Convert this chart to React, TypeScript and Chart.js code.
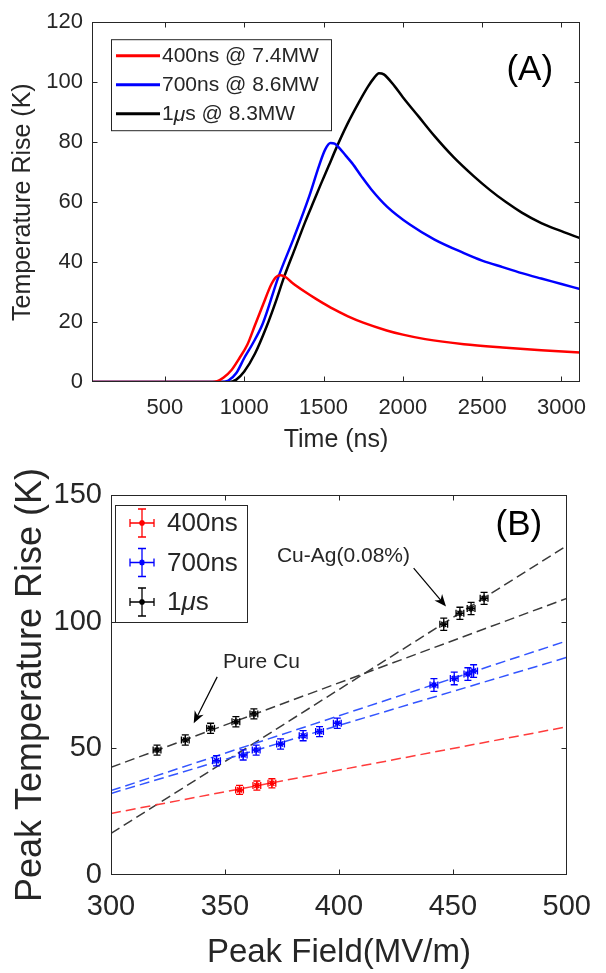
import React, { useEffect, useRef } from "react";
import { Chart, registerables } from "chart.js";

Chart.register(...registerables);

const FONT = "'Liberation Sans', Arial, Helvetica, sans-serif";
const INK = "#262626";

// ---------------- Panel A data ----------------
const timeTicks = [500, 1000, 1500, 2000, 2500, 3000];
const riseTicks = [0, 20, 40, 60, 80, 100, 120];

const time400 = [40, 800, 830, 870, 920, 970, 1020, 1068, 1120, 1170, 1200, 1230, 1260, 1300, 1385, 1450, 1532, 1600, 1654, 1750, 1898, 2000, 2141, 2385, 2629, 2873, 3117];
const rise400 = [0, 0, 0.3, 1.5, 4, 8, 12.5, 19, 26, 32.5, 35, 35.6, 35, 33.2, 30, 27.8, 25.2, 23.3, 21.9, 19.8, 17.2, 15.8, 14.3, 12.6, 11.5, 10.6, 9.8];

const time700 = [40, 850, 900, 950, 1000, 1050, 1117, 1215, 1312, 1410, 1471, 1510, 1544, 1570, 1600, 1640, 1680, 1740, 1800, 1900, 2044, 2200, 2385, 2500, 2629, 2750, 2873, 3000, 3117];
const rise700 = [0, 0, 0.5, 3, 8, 12.5, 19.5, 35, 48, 62, 72, 77.5, 79.7, 79.5, 78, 75.5, 73, 68.5, 64.3, 58.5, 52.5, 47.5, 43, 40.5, 38.3, 36.3, 34.5, 32.7, 31];

const time1us = [40, 900, 950, 1000, 1068, 1141, 1200, 1251, 1320, 1385, 1440, 1483, 1532, 1580, 1650, 1720, 1780, 1820, 1849, 1880, 1950, 2000, 2100, 2200, 2320, 2450, 2550, 2650, 2750, 2873, 3000, 3117];
const rise1us = [0, 0, 0.8, 3.5, 9.5, 18.5, 27, 35, 44.5, 53.5, 60.5, 66, 72, 78, 86, 93, 98.5, 101.5, 103, 102.6, 98.5, 95, 88.5, 82, 75, 68.5, 64, 60, 56.5, 53, 50.3, 48];

const labelsA = ["400ns @ 7.4MW", "700ns @ 8.6MW", "1μs @ 8.3MW"];
const colorsA = ["#ff0000", "#0000ff", "#000000"];

// ---------------- Panel B data ----------------
const fieldTicks = [300, 350, 400, 450, 500];
const peakTicks = [0, 50, 100, 150];

const field400 = [356.4, 364.0, 370.6];
const peak400 = [33.6, 35.3, 36.2];
const peak400Err = [1.8, 1.8, 1.8];

const field700 = [346.3, 358.0, 363.7, 374.4, 384.3, 391.5, 399.3, 441.7, 450.6, 456.6, 459.1];
const peak700 = [45.1, 47.4, 49.3, 51.7, 55.0, 56.6, 59.9, 75.0, 77.6, 79.3, 80.5];
const peak700Err = [2, 2, 2, 2, 2, 2, 2, 2.5, 2.5, 2.5, 2.5];

const field1us = [320.2, 332.6, 343.7, 354.8, 362.7, 446.0, 453.1, 458.0, 463.7];
const peak1us = [49.3, 53.3, 57.9, 60.5, 63.6, 99.0, 103.3, 105.2, 109.2];
const peak1usErr = [2, 2, 2, 2, 2, 2.4, 2.4, 2.4, 2.4];

const fieldErr = 1.7;

const fitField = [300, 500];
const fit400 = [24.3, 58.5];
const fit700a = [33.3, 92.4];
const fit700b = [32.2, 85.9];
const fitCu = [42.5, 109.2];
const fitCuAg = [16.4, 130.0];

const labelsB = ["400ns", "700ns", "1μs"];
const colorsB = ["#ff0000", "#0000ff", "#000000"];

// ---------------- helpers ----------------
function drawRich(ctx: CanvasRenderingContext2D, text: string, x: number, y: number, size: number) {
  const parts = text.split("μ");
  let cx = x;
  parts.forEach((p, i) => {
    if (i > 0) {
      ctx.font = `italic ${size}px ${FONT}`;
      ctx.fillText("μ", cx, y);
      cx += ctx.measureText("μ").width;
    }
    ctx.font = `${size}px ${FONT}`;
    ctx.fillText(p, cx, y);
    cx += ctx.measureText(p).width;
  });
}

function framePlugin(xTicks: number[], yTicks: number[], tickLen: number) {
  return {
    id: "frame",
    afterDraw(chart: any) {
      const { ctx, chartArea: a } = chart;
      const xs = chart.scales.x;
      const ys = chart.scales.y;
      const L = Math.round(a.left) + 0.5;
      const R = Math.round(a.right) - 0.5;
      const T = Math.round(a.top) + 0.5;
      const B = Math.round(a.bottom) - 0.5;
      ctx.save();
      ctx.strokeStyle = INK;
      ctx.lineWidth = 1;
      ctx.strokeRect(L, T, R - L, B - T);
      ctx.beginPath();
      for (const v of xTicks) {
        const p = Math.round(xs.getPixelForValue(v)) + 0.5;
        if (p <= L + 1 || p >= R - 1) continue;
        ctx.moveTo(p, B);
        ctx.lineTo(p, B - tickLen);
        ctx.moveTo(p, T);
        ctx.lineTo(p, T + tickLen);
      }
      for (const v of yTicks) {
        const p = Math.round(ys.getPixelForValue(v)) + 0.5;
        if (p <= T + 1 || p >= B - 1) continue;
        ctx.moveTo(L, p);
        ctx.lineTo(L + tickLen, p);
        ctx.moveTo(R, p);
        ctx.lineTo(R - tickLen, p);
      }
      ctx.stroke();
      ctx.restore();
    },
  };
}

function dummyScale(position: string, size: number) {
  const horiz = position === "top" || position === "bottom";
  return {
    type: "linear",
    position,
    display: true,
    grid: { display: false, drawTicks: false },
    border: { display: false },
    ticks: { display: false },
    afterFit: (s: any) => {
      if (horiz) s.height = size;
      else s.width = size;
    },
  };
}

function drawArrow(ctx: CanvasRenderingContext2D, x0: number, y0: number, x1: number, y1: number) {
  const ang = Math.atan2(y1 - y0, x1 - x0);
  const len = 12;
  const hw = 5;
  ctx.beginPath();
  ctx.moveTo(x0, y0);
  ctx.lineTo(x1 - Math.cos(ang) * 6, y1 - Math.sin(ang) * 6);
  ctx.stroke();
  const bx = x1 - Math.cos(ang) * len;
  const by = y1 - Math.sin(ang) * len;
  const nx = x1 - Math.cos(ang) * (len * 0.7);
  const ny = y1 - Math.sin(ang) * (len * 0.7);
  ctx.beginPath();
  ctx.moveTo(x1, y1);
  ctx.lineTo(bx + Math.sin(ang) * hw, by - Math.cos(ang) * hw);
  ctx.lineTo(nx, ny);
  ctx.lineTo(bx - Math.sin(ang) * hw, by + Math.cos(ang) * hw);
  ctx.closePath();
  ctx.fill();
}

function drawErrBar(ctx: CanvasRenderingContext2D, x: number, y: number, dxL: number, dxR: number, dyT: number, dyB: number, cap: number) {
  ctx.beginPath();
  ctx.moveTo(x, y - dyT);
  ctx.lineTo(x, y + dyB);
  ctx.moveTo(x - cap, y - dyT);
  ctx.lineTo(x + cap, y - dyT);
  ctx.moveTo(x - cap, y + dyB);
  ctx.lineTo(x + cap, y + dyB);
  ctx.moveTo(x - dxL, y);
  ctx.lineTo(x + dxR, y);
  ctx.moveTo(x - dxL, y - cap);
  ctx.lineTo(x - dxL, y + cap);
  ctx.moveTo(x + dxR, y - cap);
  ctx.lineTo(x + dxR, y + cap);
  ctx.stroke();
}

function drawStar(ctx: CanvasRenderingContext2D, x: number, y: number, r: number) {
  ctx.beginPath();
  ctx.moveTo(x - r, y);
  ctx.lineTo(x + r, y);
  ctx.moveTo(x, y - r);
  ctx.lineTo(x, y + r);
  const d = r * 0.7;
  ctx.moveTo(x - d, y - d);
  ctx.lineTo(x + d, y + d);
  ctx.moveTo(x - d, y + d);
  ctx.lineTo(x + d, y - d);
  ctx.stroke();
}

const plainTick = (v: any) => String(v);

// ---------------- Panel A ----------------
function PanelA() {
  const ref = useRef<HTMLCanvasElement>(null);
  useEffect(() => {
    const series = [
      [time400, rise400],
      [time700, rise700],
      [time1us, rise1us],
    ];
    const legendPlugin = {
      id: "legendA",
      afterDraw(chart: any) {
        const { ctx, chartArea: a, scales } = chart;
        ctx.save();
        ctx.fillStyle = "#000";
        ctx.font = `35px ${FONT}`;
        ctx.textAlign = "center";
        ctx.textBaseline = "middle";
        ctx.fillText("(A)", scales.x.getPixelForValue(2800), scales.y.getPixelForValue(104));
        const bx = a.left + 19;
        const by = a.top + 17;
        const bw = 220;
        const bh = 91;
        ctx.fillStyle = "#fff";
        ctx.fillRect(bx, by, bw, bh);
        ctx.strokeStyle = INK;
        ctx.lineWidth = 1;
        ctx.strokeRect(bx + 0.5, by + 0.5, bw, bh);
        ctx.textAlign = "left";
        labelsA.forEach((lab, i) => {
          const y = by + 16.5 + i * 29;
          ctx.strokeStyle = colorsA[i];
          ctx.lineWidth = 3;
          ctx.beginPath();
          ctx.moveTo(bx + 5, y);
          ctx.lineTo(bx + 49, y);
          ctx.stroke();
          ctx.fillStyle = INK;
          drawRich(ctx, lab, bx + 51, y + 1, 21);
        });
        ctx.restore();
      },
    };
    const chart = new Chart(ref.current as HTMLCanvasElement, {
      type: "line",
      data: {
        datasets: series.map(([xs, ys], i) => ({
          label: labelsA[i],
          data: xs.map((x, j) => ({ x, y: ys[j] })),
          borderColor: colorsA[i],
          backgroundColor: colorsA[i],
          borderWidth: 2.5,
          pointRadius: 0,
          cubicInterpolationMode: "monotone",
          xAxisID: "x",
          yAxisID: "y",
        })),
      },
      options: {
        animation: false,
        responsive: false,
        maintainAspectRatio: false,
        layout: { padding: 0 },
        plugins: { legend: { display: false }, tooltip: { enabled: false } },
        scales: {
          x: {
            type: "linear",
            position: "bottom",
            min: 40,
            max: 3117,
            afterBuildTicks: (s: any) => {
              s.ticks = timeTicks.map((v) => ({ value: v }));
            },
            afterFit: (s: any) => {
              s.height = 83;
            },
            grid: { display: false, drawTicks: false },
            border: { display: false },
            ticks: { color: INK, font: { family: FONT, size: 22 }, padding: 13, maxRotation: 0, autoSkip: false, callback: plainTick },
            title: { display: true, text: "Time (ns)", color: INK, font: { family: FONT, size: 25 }, padding: { top: 0, bottom: 10 } },
          },
          y: {
            type: "linear",
            position: "left",
            min: 0,
            max: 120,
            afterBuildTicks: (s: any) => {
              s.ticks = riseTicks.map((v) => ({ value: v }));
            },
            afterFit: (s: any) => {
              s.width = 92;
            },
            grid: { display: false, drawTicks: false },
            border: { display: false },
            ticks: { color: INK, font: { family: FONT, size: 22 }, padding: 9, autoSkip: false, callback: plainTick },
            title: { display: true, text: "Temperature Rise (K)", color: INK, font: { family: FONT, size: 25 }, padding: { top: 8, bottom: 0 } },
          },
          top: dummyScale("top", 15),
          right: dummyScale("right", 26),
        } as any,
      },
      plugins: [framePlugin(timeTicks, riseTicks, 5), legendPlugin],
    } as any);
    return () => chart.destroy();
  }, []);
  return (
    <canvas
      ref={ref}
      width={606}
      height={465}
      style={{ position: "absolute", left: 0, top: 0, width: 606, height: 465 }}
    />
  );
}

// ---------------- Panel B ----------------
function PanelB() {
  const ref = useRef<HTMLCanvasElement>(null);
  useEffect(() => {
    const groups = [
      [field400, peak400, peak400Err],
      [field700, peak700, peak700Err],
      [field1us, peak1us, peak1usErr],
    ];
    const fits = [
      [fit400, "#ff3b3b"],
      [fit700a, "#3355ff"],
      [fit700b, "#3355ff"],
      [fitCu, "#3a3a3a"],
      [fitCuAg, "#3a3a3a"],
    ] as [number[], string][];

    const extrasPlugin = {
      id: "extrasB",
      afterDatasetsDraw(chart: any) {
        const { ctx, scales } = chart;
        const xs = scales.x;
        const ys = scales.y;
        ctx.save();
        ctx.lineWidth = 1.3;
        groups.forEach(([fx, py, pe], gi) => {
          ctx.strokeStyle = colorsB[gi];
          fx.forEach((f, j) => {
            const x = xs.getPixelForValue(f);
            const y = ys.getPixelForValue(py[j]);
            const dxL = x - xs.getPixelForValue(f - fieldErr);
            const dyT = y - ys.getPixelForValue(py[j] + pe[j]);
            drawErrBar(ctx, x, y, dxL, dxL, dyT, dyT, 3.5);
          });
        });
        ctx.restore();
      },
      afterDraw(chart: any) {
        const { ctx, chartArea: a, scales } = chart;
        const xs = scales.x;
        const ys = scales.y;
        ctx.save();
        ctx.fillStyle = "#000";
        ctx.textAlign = "center";
        ctx.textBaseline = "middle";
        ctx.font = `35px ${FONT}`;
        ctx.fillText("(B)", xs.getPixelForValue(479), ys.getPixelForValue(138));
        ctx.font = `21px ${FONT}`;
        ctx.fillStyle = INK;
        ctx.fillText("Pure Cu", xs.getPixelForValue(366), ys.getPixelForValue(84));
        ctx.fillText("Cu-Ag(0.08%)", xs.getPixelForValue(402), ys.getPixelForValue(126));
        ctx.strokeStyle = "#000";
        ctx.fillStyle = "#000";
        ctx.lineWidth = 1.2;
        drawArrow(ctx, xs.getPixelForValue(346.6), ys.getPixelForValue(78.2), xs.getPixelForValue(336.3), ys.getPixelForValue(59.9));
        drawArrow(ctx, xs.getPixelForValue(432.8), ys.getPixelForValue(121.1), xs.getPixelForValue(447), ys.getPixelForValue(106));
        const bx = a.left + 4;
        const by = a.top + 10;
        const bw = 132;
        const bh = 117;
        ctx.fillStyle = "#fff";
        ctx.fillRect(bx, by, bw, bh);
        ctx.strokeStyle = INK;
        ctx.lineWidth = 1;
        ctx.strokeRect(bx + 0.5, by + 0.5, bw, bh);
        ctx.textAlign = "left";
        labelsB.forEach((lab, i) => {
          const y = by + 18 + i * 39.5;
          const x = bx + 27;
          ctx.strokeStyle = colorsB[i];
          ctx.lineWidth = 1.3;
          drawErrBar(ctx, x, y, 12, 12, 14, 14, 4);
          ctx.lineWidth = 1.5;
          drawStar(ctx, x, y, 3);
          ctx.fillStyle = INK;
          drawRich(ctx, lab, bx + 52, y + 1, 26);
        });
        ctx.restore();
      },
    };

    const datasets: any[] = [
      ...fits.map(([vals, color]) => ({
        type: "line",
        data: fitField.map((f, j) => ({ x: f, y: vals[j] })),
        borderColor: color,
        borderWidth: 1.5,
        borderDash: [10, 5],
        pointRadius: 0,
        showLine: true,
        fill: false,
        xAxisID: "x",
        yAxisID: "y",
      })),
      ...groups.map(([fx, py], gi) => ({
        type: "scatter",
        label: labelsB[gi],
        data: fx.map((f, j) => ({ x: f, y: py[j] })),
        borderColor: colorsB[gi],
        backgroundColor: colorsB[gi],
        pointStyle: "star",
        pointRadius: 3.5,
        borderWidth: 1.5,
        showLine: false,
        xAxisID: "x",
        yAxisID: "y",
      })),
    ];

    const chart = new Chart(ref.current as HTMLCanvasElement, {
      type: "scatter",
      data: { datasets },
      options: {
        animation: false,
        responsive: false,
        maintainAspectRatio: false,
        layout: { padding: 0 },
        plugins: { legend: { display: false }, tooltip: { enabled: false } },
        scales: {
          x: {
            type: "linear",
            position: "bottom",
            min: 300,
            max: 500,
            afterBuildTicks: (s: any) => {
              s.ticks = fieldTicks.map((v) => ({ value: v }));
            },
            afterFit: (s: any) => {
              s.height = 98;
            },
            grid: { display: false, drawTicks: false },
            border: { display: false },
            ticks: { color: INK, font: { family: FONT, size: 29 }, padding: 15, maxRotation: 0, autoSkip: false, callback: plainTick },
            title: { display: true, text: "Peak Field(MV/m)", color: INK, font: { family: FONT, size: 33 }, padding: { top: 0, bottom: 0 } },
          },
          y: {
            type: "linear",
            position: "left",
            min: 0,
            max: 150,
            afterBuildTicks: (s: any) => {
              s.ticks = peakTicks.map((v) => ({ value: v }));
            },
            afterFit: (s: any) => {
              s.width = 111;
            },
            grid: { display: false, drawTicks: false },
            border: { display: false },
            ticks: { color: INK, font: { family: FONT, size: 29 }, padding: 9, autoSkip: false, callback: plainTick },
            title: { display: true, text: "Peak Temperature Rise (K)", color: INK, font: { family: FONT, size: 36 }, padding: { top: 9, bottom: 0 } },
          },
          top: dummyScale("top", 30),
          right: dummyScale("right", 27),
        } as any,
      },
      plugins: [framePlugin(fieldTicks, peakTicks, 5), extrasPlugin],
    } as any);
    return () => chart.destroy();
  }, []);
  return (
    <canvas
      ref={ref}
      width={606}
      height={508}
      style={{ position: "absolute", left: 0, top: 465, width: 606, height: 508 }}
    />
  );
}

export default function App() {
  return (
    <div style={{ position: "absolute", left: 0, top: 0, width: 606, height: 973, background: "#fff" }}>
      <PanelA />
      <PanelB />
    </div>
  );
}
